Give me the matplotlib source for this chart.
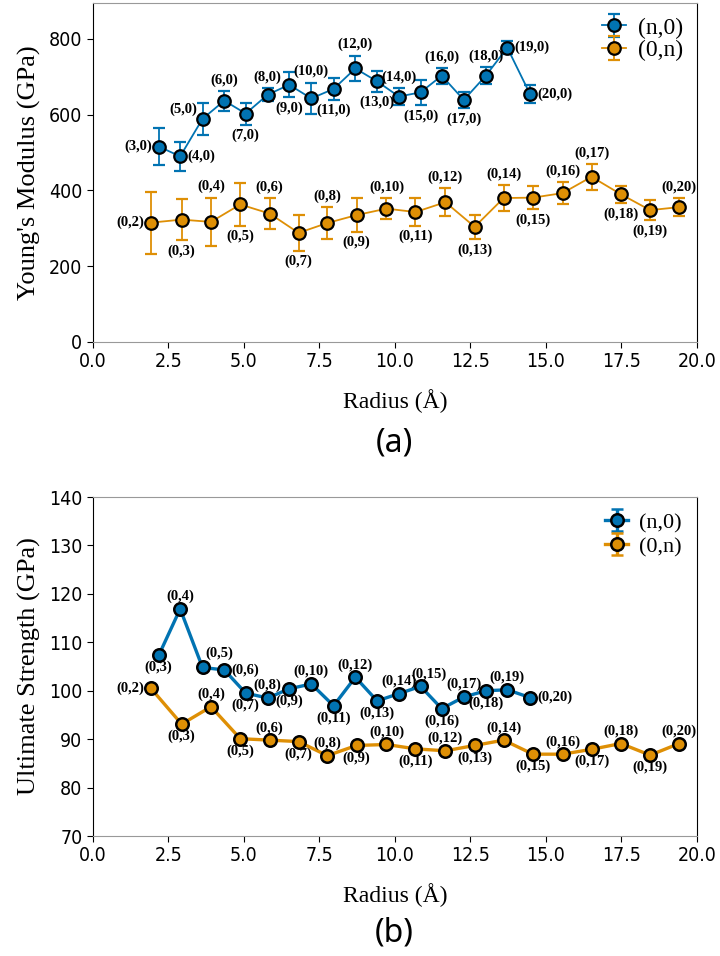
import matplotlib
matplotlib.use('Agg')
import matplotlib.pyplot as plt

plt.rcParams['font.family'] = ['DejaVu Sans']

# radius (Angstrom) of the (n,0) and (0,n) tubes
r_n0 = [2.18, 2.89, 3.63, 4.35, 5.06, 5.79, 6.50, 7.23, 7.97, 8.69, 9.41, 10.13, 10.85, 11.55, 12.28, 13.01, 13.72, 14.47]
r_0n = [1.92, 2.94, 3.91, 4.88, 5.85, 6.81, 7.76, 8.73, 9.72, 10.68, 11.67, 12.64, 13.60, 14.57, 15.55, 16.51, 17.48, 18.45, 19.41]

# (a) Young's modulus (GPa)
ym_n0 = [516, 490, 589, 637, 603, 653, 679, 643, 668, 722, 688, 648, 659, 703, 639, 703, 777, 655]
ym_n0_err = [49, 39, 43, 26, 29, 18, 33, 42, 28, 34, 27, 23, 33, 21, 22, 23, 18, 24]
ym_0n = [315, 323, 317, 363, 339, 288, 314, 335, 352, 343, 369, 304, 380, 381, 393, 436, 390, 348, 356]
ym_0n_err = [82, 55, 64, 56, 41, 47, 42, 44, 27, 36, 37, 32, 35, 31, 29, 34, 23, 27, 24]

# (b) ultimate strength (GPa)
us_n0 = [107.3, 116.9, 104.8, 104.3, 99.5, 98.5, 100.4, 101.4, 96.9, 102.8, 97.9, 99.4, 100.9, 96.3, 98.7, 100.0, 100.2, 98.6]
us_0n = [100.5, 93.1, 96.7, 90.1, 89.8, 89.5, 86.6, 88.7, 88.9, 88.0, 87.6, 88.7, 89.8, 86.9, 86.9, 87.9, 89.1, 86.7, 89.1]
us_n0_err = [0] * len(us_n0)
us_0n_err = [0] * len(us_0n)

# point labels
lab_a_n0 = ['(%d,0)' % n for n in range(3, 21)]
lab_a_0n = ['(0,%d)' % n for n in range(2, 21)]
lab_b_n0 = ['(0,%d)' % n for n in range(3, 21)]
lab_b_0n = ['(0,%d)' % n for n in range(2, 21)]

# where each label sits: a=above, b=below, l=left, r=right (> shifted right)
pos_a_n0 = ['l', 'r', 'al', 'a', 'b', 'a', 'b', 'a', 'b', 'a', 'b', 'a', 'b', 'a', 'b', 'a', 'r', 'r']
pos_a_0n = ['l', 'b', 'a', 'b', 'a', 'b', 'a', 'b', 'a', 'b', 'a', 'b', 'a', 'b', 'a', 'a', 'b', 'b', 'a']
pos_b_n0 = ['b', 'a', 'ar', 'r', 'b', 'a', 'b', 'a', 'b', 'a', 'b', 'a', 'a>', 'b', 'a', 'b', 'a', 'r']
pos_b_0n = ['l', 'b', 'a', 'b', 'a', 'b', 'a', 'b', 'a', 'b', 'a', 'b', 'a', 'b', 'a', 'b', 'a', 'b', 'a']

blue = '#0173b2'
orange = '#de8f05'
serif = ['Liberation Serif', 'DejaVu Serif']


def label_points(ax, xs, ys, errs, labels, pos, gap):
    for x, y, e, t, p in zip(xs, ys, errs, labels, pos):
        if p == 'a':
            xy, off, ha, va = (x, y + e), (0, gap), 'center', 'bottom'
        elif p == 'a>':
            xy, off, ha, va = (x, y + e), (6, gap), 'center', 'bottom'
        elif p == 'b':
            xy, off, ha, va = (x, y - e), (0, -gap), 'center', 'top'
        elif p == 'l':
            xy, off, ha, va = (x, y), (-5, 0), 'right', 'center'
        elif p == 'r':
            xy, off, ha, va = (x, y), (5, 0), 'left', 'center'
        elif p == 'al':
            xy, off, ha, va = (x, y), (-4, 7), 'right', 'center'
        else:  # 'ar'
            xy, off, ha, va = (x, y), (2, 10), 'left', 'center'
        ax.annotate(t, xy=xy, xytext=off, textcoords='offset points',
                    ha=ha, va=va, fontsize=10.5, fontweight='bold', family=serif)


def style_axes(ax):
    ax.set_xlim(0, 20)
    ax.set_xticks([0, 2.5, 5, 7.5, 10, 12.5, 15, 17.5, 20])
    ax.set_xticklabels(['0.0', '2.5', '5.0', '7.5', '10.0', '12.5', '15.0', '17.5', '20.0'])
    for lab in ax.get_xticklabels() + ax.get_yticklabels():
        lab.set_fontsize(14)
        lab.set_fontstretch('condensed')
    ax.spines['top'].set_color('#999999')
    ax.spines['bottom'].set_color('#999999')
    ax.tick_params(direction='out', length=4)
    ax.set_xlabel('Radius (Å)', family=serif, fontsize=17, labelpad=13)
    ax.yaxis.set_label_coords(-0.086, 0.5)


fig = plt.figure(figsize=(7.2, 9.56), dpi=100)

# ---- (a) Young's modulus
ax1 = fig.add_axes([0.129, 0.6423, 0.839, 0.3546])
ax1.errorbar(r_n0, ym_n0, yerr=ym_n0_err, fmt='-o', color=blue, mfc=blue, mec='black',
             mew=1.6, ms=9, lw=1.3, capsize=4, elinewidth=1.3, capthick=1.3, label='(n,0)')
ax1.errorbar(r_0n, ym_0n, yerr=ym_0n_err, fmt='-o', color=orange, mfc=orange, mec='black',
             mew=1.6, ms=9, lw=1.3, capsize=4, elinewidth=1.3, capthick=1.3, label='(0,n)')
ax1.set_ylim(0, 895)
ax1.set_yticks([0, 200, 400, 600, 800])
ax1.set_ylabel("Young's Modulus (GPa)", family=serif, fontsize=19)
style_axes(ax1)
label_points(ax1, r_n0, ym_n0, ym_n0_err, lab_a_n0, pos_a_n0, 3)
label_points(ax1, r_0n, ym_0n, ym_0n_err, lab_a_0n, pos_a_0n, 3)
ax1.legend(loc='upper right', frameon=False, prop={'family': serif, 'size': 17},
           handlelength=1.0, handletextpad=0.5, labelspacing=0.05, borderaxespad=0.2)
fig.text(0.548, 1 - 443 / 956, '(a)', ha='center', va='center', fontsize=23,
         family='Noto Sans', fontstretch='condensed')

# ---- (b) ultimate strength
ax2 = fig.add_axes([0.129, 0.1255, 0.839, 0.3546])
ax2.errorbar(r_n0, us_n0, yerr=us_n0_err, fmt='-o', color=blue, mfc=blue, mec='black',
             mew=1.8, ms=9, lw=2.4, capsize=4, label='(n,0)')
ax2.errorbar(r_0n, us_0n, yerr=us_0n_err, fmt='-o', color=orange, mfc=orange, mec='black',
             mew=1.8, ms=9, lw=2.4, capsize=4, label='(0,n)')
ax2.set_ylim(70, 140)
ax2.set_yticks([70, 80, 90, 100, 110, 120, 130, 140])
ax2.set_ylabel('Ultimate Strength (GPa)', family=serif, fontsize=19)
style_axes(ax2)
label_points(ax2, r_n0, us_n0, us_n0_err, lab_b_n0, pos_b_n0, 4)
label_points(ax2, r_0n, us_0n, us_0n_err, lab_b_0n, pos_b_0n, 4)
ax2.legend(loc='upper right', frameon=False, prop={'family': serif, 'size': 16},
           handlelength=1.0, handletextpad=0.5, labelspacing=0.15, borderaxespad=0.3)
fig.text(0.548, 1 - 933 / 956, '(b)', ha='center', va='center', fontsize=23,
         family='Noto Sans', fontstretch='condensed')

fig.savefig('out.png', dpi=100)
